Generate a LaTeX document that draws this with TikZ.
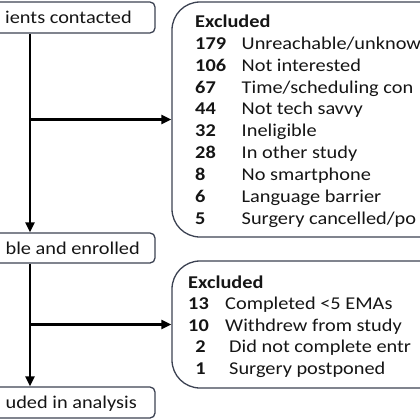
\documentclass[tikz,border=0pt]{standalone}
\usepackage{fontspec}
\setmainfont[FakeStretch=1.13]{Carlito}
\usetikzlibrary{arrows.meta}
\definecolor{boxline}{HTML}{3C4252}
\definecolor{ink}{HTML}{151515}
\tikzset{
  smallbox/.style={draw=boxline, line width=1.3pt, rounded corners=5pt, inner sep=0pt},
  bigbox/.style={draw=boxline, line width=1.3pt, rounded corners=28pt, inner sep=0pt},
  txt/.style={inner sep=0pt, text=ink, font=\fontsize{18pt}{22pt}\selectfont},
  conn/.style={line width=2.8pt, black, -{Triangle[length=10pt,width=9pt]}}
}
\begin{document}
\begin{tikzpicture}[x=1pt,y=-1pt]
\useasboundingbox (0,0) rectangle (420,420);
\clip (0,0) rectangle (420,420);
% left boxes
\node[smallbox, minimum width=175pt, minimum height=31pt] (b1) at (67.5,17.5) {};
\node[smallbox, minimum width=175pt, minimum height=30pt] (b2) at (67.5,248) {};
\node[smallbox, minimum width=175pt, minimum height=31pt] (b3) at (67.5,402.5) {};
\node[txt, anchor=base east] (t1) at (132,24) {ients contacted};
\node[txt, anchor=base east] (t2) at (140,254) {ble and enrolled};
\node[txt, anchor=base east] (t3) at (137,408) {uded in analysis};
% right boxes
\node[bigbox, minimum width=348pt, minimum height=235pt] (e1) at (346,119.5) {};
\node[bigbox, minimum width=348pt, minimum height=127pt] (e2) at (346,324.5) {};
% list 1
\node[txt, anchor=base west] (h1) at (195,27.3) {\textbf{Excluded}};
\foreach \n/\lab [count=\i] in {179/Unreachable\slash unknow, 106/Not interested, 67/Time\slash scheduling con, 44/Not tech savvy, 32/Ineligible, 28/In other study, 8/No smartphone, 6/Language barrier, 5/Surgery cancelled\slash po}{
  \node[txt, anchor=base west] (n\i) at (195,{27.3+21.9*\i}) {\textbf{\n}};
  \node[txt, anchor=base west] (l\i) at (241.5,{27.3+21.9*\i}) {\lab};
}
% list 2
\node[txt, anchor=base west] (h2) at (188,288) {\textbf{Excluded}};
\node[txt, anchor=base west] (m1) at (188,309.5) {\textbf{13}};
\node[txt, anchor=base west] (k1) at (225,309.5) {Completed <5 EMAs};
\node[txt, anchor=base west] (m2) at (188,331) {\textbf{10}};
\node[txt, anchor=base west] (k2) at (225,331) {Withdrew from study};
\node[txt, anchor=base east] (m3) at (206,352.5) {\textbf{2}};
\node[txt, anchor=base west] (k3) at (229,352.5) {Did not complete entr};
\node[txt, anchor=base east] (m4) at (206,374) {\textbf{1}};
\node[txt, anchor=base west] (k4) at (229,374) {Surgery postponed};
% connectors
\coordinate (j1) at (30,119.5);
\coordinate (j2) at (30,324.5);
\draw[conn] (b1.south -| j1) -- (b2.north -| j1);
\draw[conn] (j1) -- (e1.west);
\draw[conn] (b2.south -| j2) -- (b3.north -| j2);
\draw[conn] (j2) -- (e2.west);
\end{tikzpicture}
\end{document}
